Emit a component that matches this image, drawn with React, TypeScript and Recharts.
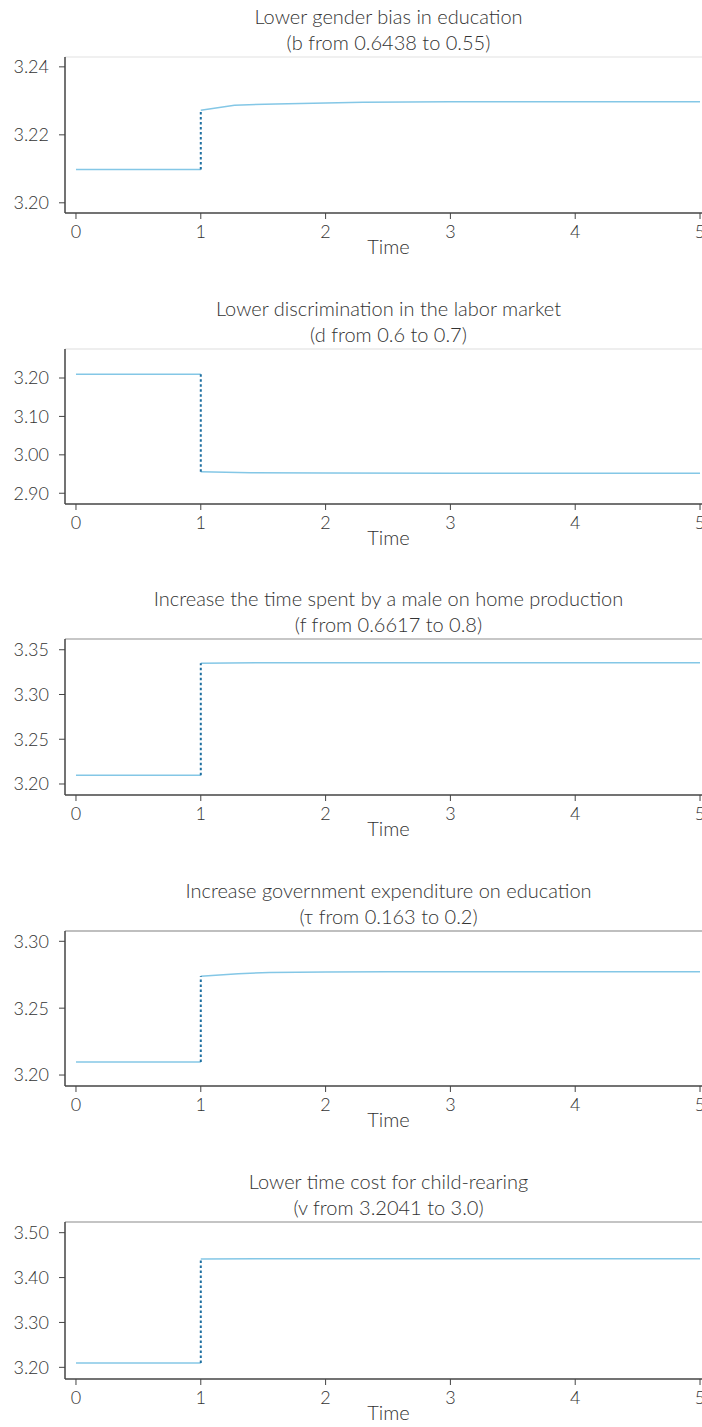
import React from 'react';
import { LineChart, Line, XAxis, YAxis, ReferenceLine } from 'recharts';

// ---- data ----
const titles = [
  ['Lower gender bias in education', '(b from 0.6438 to 0.55)'],
  ['Lower discrimination in the labor market', '(d from 0.6 to 0.7)'],
  ['Increase the time spent by a male on home production', '(f from 0.6617 to 0.8)'],
  ['Increase government expenditure on education', '(τ from 0.163 to 0.2)'],
  ['Lower time cost for child-rearing', '(v from 3.2041 to 3.0)'],
];

const xTicks = [0, 1, 2, 3, 4, 5];
const preTime = [0, 1];
const preValue = [3.2098, 3.2098, 3.2098, 3.2098, 3.2098];

const p1PostTime = [1, 1.27, 1.6, 2, 2.3, 3, 4, 5];
const p1PostValue = [3.2272, 3.2287, 3.2291, 3.2294, 3.2296, 3.2297, 3.2297, 3.2297];

const p2PostTime = [1, 1.4, 2, 3, 4, 5];
const p2PostValue = [2.956, 2.9532, 2.9525, 2.952, 2.952, 2.952];

const p3PostTime = [1, 1.5, 2, 3, 4, 5];
const p3PostValue = [3.335, 3.3354, 3.3356, 3.3356, 3.3356, 3.3356];

const p4PostTime = [1, 1.3, 1.55, 2, 2.5, 3, 4, 5];
const p4PostValue = [3.2739, 3.2757, 3.2767, 3.2770, 3.2772, 3.2773, 3.2773, 3.2773];

const p5PostTime = [1, 1.6, 2, 3, 4, 5];
const p5PostValue = [3.4413, 3.4418, 3.4419, 3.442, 3.442, 3.442];

const yTicks = [
  [3.2, 3.22, 3.24],
  [2.9, 3.0, 3.1, 3.2],
  [3.2, 3.25, 3.3, 3.35],
  [3.2, 3.25, 3.3],
  [3.2, 3.3, 3.4, 3.5],
];
const yDomains = [
  [3.197, 3.2429],
  [2.872, 3.2755],
  [3.1877, 3.362],
  [3.1918, 3.3077],
  [3.174, 3.5238],
];

const postTimes = [p1PostTime, p2PostTime, p3PostTime, p4PostTime, p5PostTime];
const postValues = [p1PostValue, p2PostValue, p3PostValue, p4PostValue, p5PostValue];

// ---- layout ----
const plotTops = [57, 349, 639, 931, 1222];
const plotHeights = [156, 155, 156, 155, 157];
const topBorderColors = ['#ebebeb', '#e8e8e8', '#b4b4b4', '#aaaaaa', '#b0b0b0'];
const CHART_W = 712;
const TOP_M = 57;
const XAXIS_H = 78;
const FONT = 'Lato, "Noto Sans", sans-serif';
const TEXT = '#333333';
const AXIS = '#444444';
const LINE = '#84c7e6';
const DOT = '#1f6fa0';

function buildRows(i: number) {
  const pre = preValue[i];
  const pt = postTimes[i];
  const pv = postValues[i];
  const rows: any[] = [];
  rows.push({ t: preTime[0], pre });
  rows.push({ t: preTime[1], pre, jump: pre });
  rows.push({ t: pt[0], jump: pv[0], post: pv[0] });
  for (let k = 1; k < pt.length; k++) rows.push({ t: pt[k], post: pv[k] });
  return rows;
}

function Panel({ i }: { i: number }) {
  const rows = buildRows(i);
  const top = plotTops[i] - TOP_M;
  const h = TOP_M + plotHeights[i] + XAXIS_H;
  const [lo, hi] = yDomains[i];
  return (
    <div style={{ position: 'absolute', left: 0, top, width: CHART_W, height: h }}>
      <div
        style={{
          position: 'absolute',
          left: 0,
          top: 3,
          width: 777,
          textAlign: 'center',
          fontFamily: FONT,
          fontWeight: 300,
          fontSize: 20,
          lineHeight: '26px',
          color: TEXT,
          whiteSpace: 'nowrap',
        }}
      >
        <div>{titles[i][0]}</div>
        <div>{titles[i][1]}</div>
      </div>
      <LineChart
        width={CHART_W}
        height={h}
        data={rows}
        margin={{ top: TOP_M, right: 0, bottom: 0, left: 0 }}
        style={{ position: 'absolute', left: 0, top: 0 }}
      >
        <XAxis
          dataKey="t"
          type="number"
          domain={[-0.088, 5.096]}
          ticks={xTicks}
          allowDataOverflow
          height={XAXIS_H}
          tickSize={6}
          tickMargin={6}
          stroke={AXIS}
          axisLine={{ stroke: AXIS, strokeWidth: 1.5 }}
          tickLine={{ stroke: AXIS }}
          tick={{ fill: TEXT, fontSize: 18, fontFamily: FONT, fontWeight: 300 }}
          interval={0}
          label={{ value: 'Time', position: 'insideTop', offset: 27, fill: TEXT, fontSize: 20, fontFamily: FONT, fontWeight: 300 }}
        />
        <YAxis
          type="number"
          domain={[lo, hi]}
          ticks={yTicks[i]}
          allowDataOverflow
          width={65}
          tickSize={6}
          tickMargin={10}
          stroke={AXIS}
          axisLine={{ stroke: AXIS, strokeWidth: 1.5 }}
          tickLine={{ stroke: AXIS }}
          tick={{ fill: TEXT, fontSize: 18, fontFamily: FONT, fontWeight: 300 }}
          interval={0}
          tickFormatter={(v: number) => v.toFixed(2)}
        />
        <ReferenceLine y={hi} stroke={topBorderColors[i]} strokeWidth={1.5} />
        <Line dataKey="pre" stroke={LINE} strokeWidth={1.5} dot={false} isAnimationActive={false} />
        <Line dataKey="post" stroke={LINE} strokeWidth={1.5} dot={false} isAnimationActive={false} />
        <Line
          dataKey="jump"
          stroke={DOT}
          strokeWidth={2}
          strokeDasharray="2.5 2.5"
          dot={false}
          isAnimationActive={false}
        />
      </LineChart>
    </div>
  );
}

export default function App() {
  return (
    <div
      style={{
        position: 'relative',
        width: 702,
        height: 1427,
        overflow: 'hidden',
        background: '#ffffff',
      }}
    >
      <style>{'html,body{margin:0;padding:0;overflow:hidden;}'}</style>
      {[0, 1, 2, 3, 4].map((i) => (
        <Panel key={i} i={i} />
      ))}
    </div>
  );
}
